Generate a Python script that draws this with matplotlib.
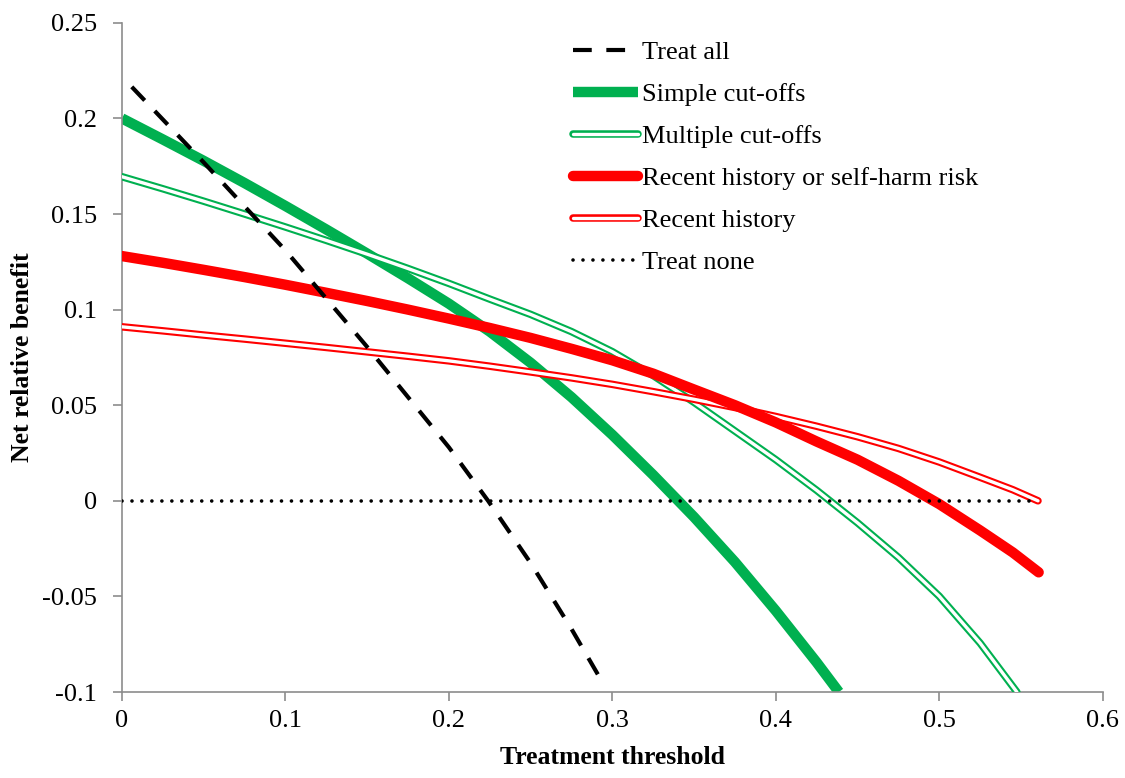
import matplotlib
matplotlib.use('Agg')
import matplotlib.pyplot as plt
from matplotlib.legend_handler import HandlerTuple

plt.rcParams['font.family'] = ['Liberation Serif', 'DejaVu Serif']

GREEN = '#00B050'
RED = '#FF0000'
GREY = '#8c8c8c'

# data
treat_all_x = [0.006, 0.05, 0.1, 0.15, 0.2, 0.224, 0.25, 0.275, 0.294]
treat_all_y = [0.2165, 0.177, 0.131, 0.0805, 0.028, 0.0, -0.0325, -0.067, -0.095]

simple_x = [0, 0.025, 0.05, 0.075, 0.1, 0.125, 0.15, 0.175, 0.2, 0.225, 0.25,
            0.275, 0.3, 0.325, 0.35, 0.375, 0.4, 0.425, 0.4386]
simple_y = [0.200, 0.189, 0.1778, 0.1662, 0.1542, 0.1419, 0.1293, 0.1164, 0.1031, 0.0885, 0.0722,
            0.0542, 0.0345, 0.0135, -0.0085, -0.032, -0.0575, -0.0845, -0.100]

multiple_x = [0, 0.025, 0.05, 0.075, 0.1, 0.125, 0.15, 0.175, 0.2, 0.225, 0.25, 0.275,
              0.3, 0.325, 0.35, 0.375, 0.4, 0.425, 0.45, 0.475, 0.5, 0.525, 0.5475]
multiple_y = [0.1695, 0.1632, 0.1567, 0.150, 0.1432, 0.1362, 0.129, 0.1215, 0.1137, 0.1055, 0.0975, 0.0885,
              0.078, 0.0655, 0.0515, 0.0365, 0.0215, 0.0055, -0.0115, -0.0296, -0.0499, -0.0744, -0.100]

recent_risk_x = [0, 0.025, 0.05, 0.075, 0.1, 0.125, 0.15, 0.175, 0.2, 0.225, 0.25, 0.275, 0.3,
                 0.325, 0.35, 0.375, 0.4, 0.425, 0.45, 0.475, 0.5, 0.525, 0.545, 0.5608]
recent_risk_y = [0.128, 0.1245, 0.1208, 0.117, 0.113, 0.1088, 0.1045, 0.1, 0.0953, 0.0904, 0.0852, 0.0795, 0.0735,
                 0.0665, 0.0582, 0.050, 0.041, 0.031, 0.0215, 0.0105, -0.0017, -0.0155, -0.027, -0.0374]

recent_x = [0, 0.025, 0.05, 0.075, 0.1, 0.125, 0.15, 0.175, 0.2, 0.225, 0.25, 0.275, 0.3,
            0.325, 0.35, 0.375, 0.4, 0.425, 0.45, 0.475, 0.5, 0.525, 0.545, 0.5604]
recent_y = [0.091, 0.0889, 0.0867, 0.0846, 0.0824, 0.0802, 0.0779, 0.0756, 0.0732, 0.0704, 0.0674, 0.0643, 0.0609,
            0.0571, 0.0531, 0.0488, 0.0441, 0.039, 0.0335, 0.0274, 0.0203, 0.0123, 0.0058, 0.0]

none_x = [0, 0.5604]
none_y = [0, 0]

x_ticks = [0, 0.1, 0.2, 0.3, 0.4, 0.5, 0.6]
x_labels = ['0', '0.1', '0.2', '0.3', '0.4', '0.5', '0.6']
y_ticks = [-0.1, -0.05, 0, 0.05, 0.1, 0.15, 0.2, 0.25]
y_labels = ['-0.1', '-0.05', '0', '0.05', '0.1', '0.15', '0.2', '0.25']

fig = plt.figure(figsize=(11.25, 7.78), dpi=100)
ax = fig.add_axes([0.1084, 0.1105, 0.8718, 0.8602])

THICK = 7.5
OUTER = 5.4
INNER = 2.4


def double_line(x, y, color, z):
    outer, = ax.plot(x, y, color=color, lw=OUTER, solid_capstyle='round',
                     solid_joinstyle='round', zorder=z)
    inner, = ax.plot(x, y, color='white', lw=INNER, solid_capstyle='round',
                     solid_joinstyle='round', zorder=z + 0.1)
    return (outer, inner)


h_simple, = ax.plot(simple_x, simple_y, color=GREEN, lw=THICK,
                    solid_capstyle='butt', solid_joinstyle='round', zorder=2)
h_multiple = double_line(multiple_x, multiple_y, GREEN, 3)
h_recent = double_line(recent_x, recent_y, RED, 4)
h_risk, = ax.plot(recent_risk_x, recent_risk_y, color=RED, lw=THICK,
                  solid_capstyle='round', solid_joinstyle='round', zorder=5)
h_all, = ax.plot(treat_all_x, treat_all_y, color='black', lw=3.0,
                 dash_capstyle='butt', zorder=6)
h_all.set_dashes((4.5, 3.5))
h_none, = ax.plot(none_x, none_y, color='black', lw=2.6,
                  dash_capstyle='round', zorder=7)
h_none.set_dashes((0.01, 2.75))

ax.set_xlim(0, 0.6)
ax.set_ylim(-0.1, 0.25)
ax.set_xticks(x_ticks)
ax.set_xticklabels(x_labels)
ax.set_yticks(y_ticks)
ax.set_yticklabels(y_labels)

for s in ['top', 'right']:
    ax.spines[s].set_visible(False)
for s in ['left', 'bottom']:
    ax.spines[s].set_color(GREY)
    ax.spines[s].set_linewidth(1.2)
ax.tick_params(axis='both', direction='out', length=6.5, width=1.2, color=GREY,
               labelsize=19)
ax.tick_params(axis='x', pad=6.5)
ax.tick_params(axis='y', pad=11.5)

ax.set_xlabel('Treatment threshold', fontsize=18.5, fontweight='bold', labelpad=10)
ax.set_ylabel('Net relative benefit', fontsize=18.5, fontweight='bold', labelpad=6)

handles = [h_all, h_simple, h_multiple, h_risk, h_recent, h_none]
labels = ['Treat all', 'Simple cut-offs', 'Multiple cut-offs',
          'Recent history or self-harm risk', 'Recent history', 'Treat none']
leg = ax.legend(handles, labels, loc='upper left', bbox_to_anchor=(0.46, 0.973),
                frameon=False, fontsize=19, handlelength=2.45, handletextpad=0.15,
                labelspacing=0.7, borderpad=0, borderaxespad=0,
                handler_map={tuple: HandlerTuple(ndivide=1, pad=0)})

fig.savefig('out.png', dpi=100)
